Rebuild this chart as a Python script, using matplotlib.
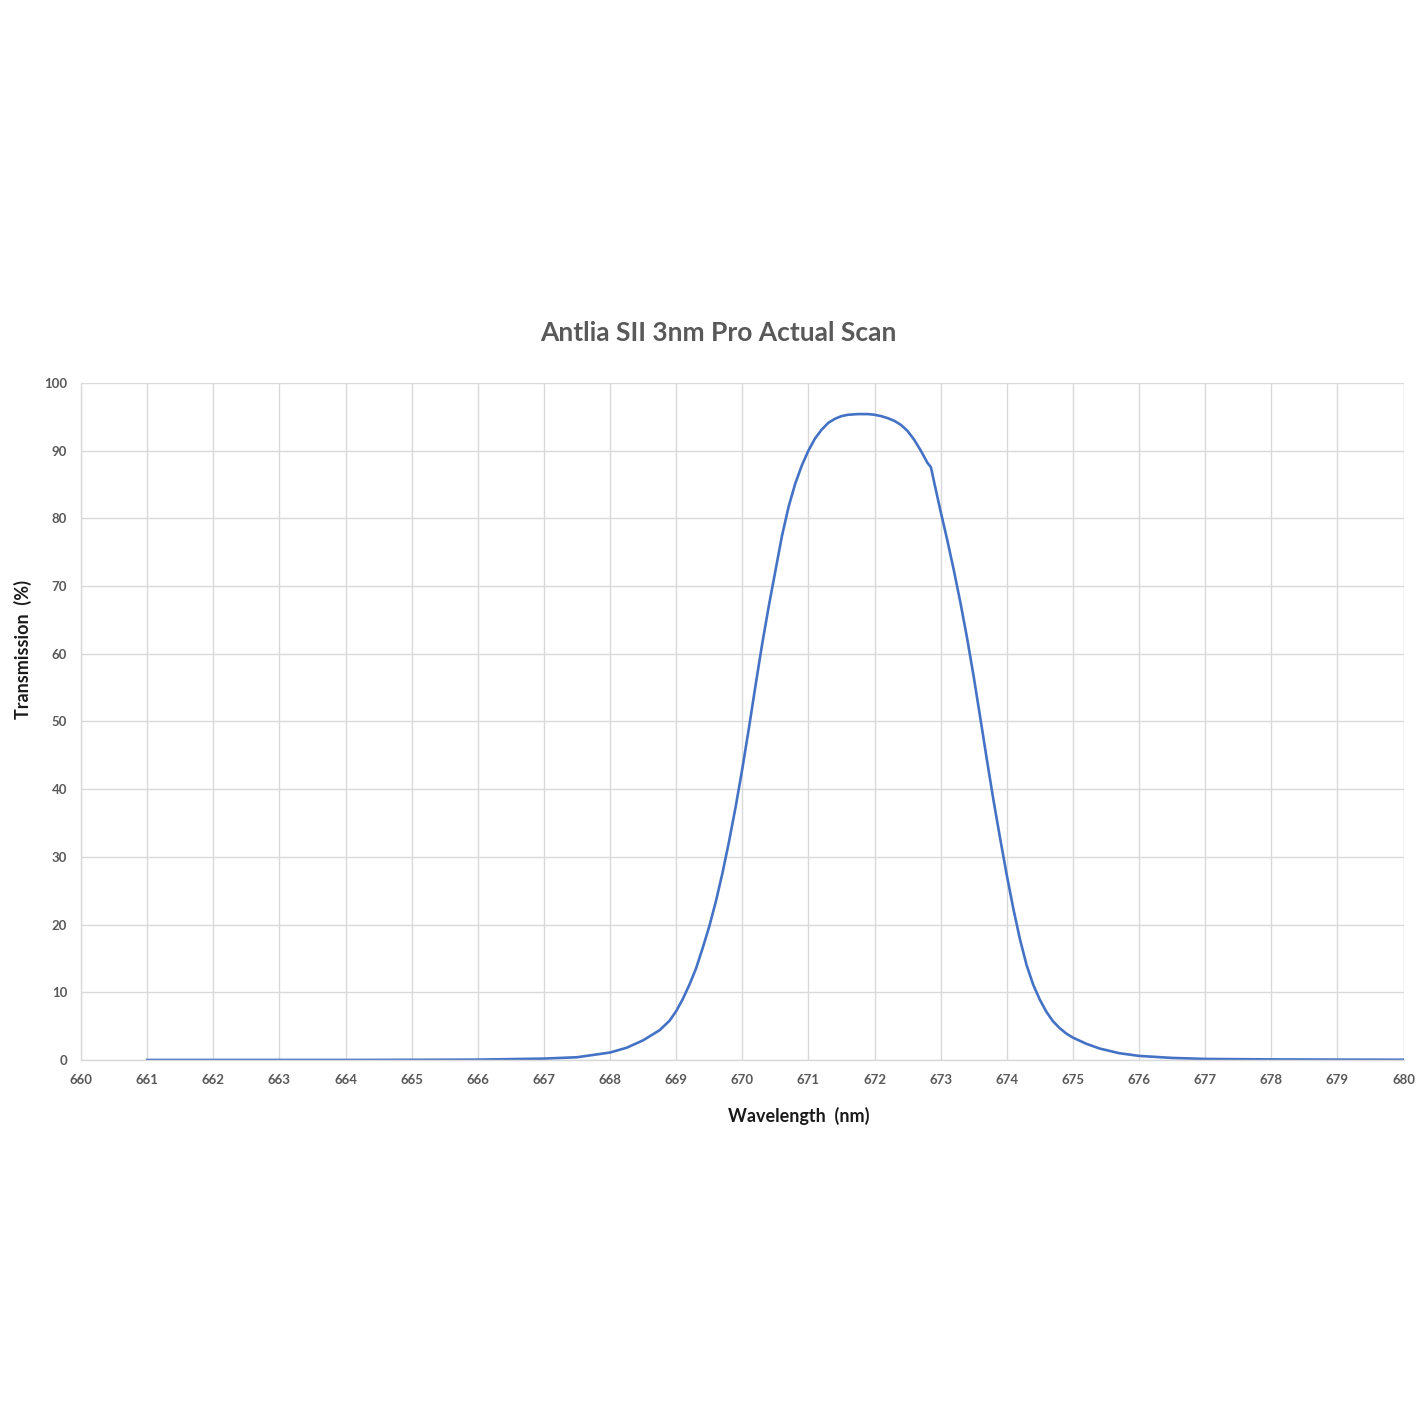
#!/usr/bin/env python3
"""
Antlia SII 3nm Pro filter scan - transmission curve
"""

import matplotlib
matplotlib.use("Agg")
import matplotlib.pyplot as plt

# values (nm, %)
wavelength = [661, 662, 663, 664, 665, 666, 667, 667.5, 668, 668.25, 668.5,
              668.75, 668.9, 669, 669.1, 669.2, 669.3, 669.4, 669.5, 669.6,
              669.7, 669.8, 669.9, 670, 670.1, 670.2, 670.3, 670.4, 670.5,
              670.6, 670.7, 670.8, 670.9, 671, 671.1, 671.2, 671.3, 671.4,
              671.5, 671.6, 671.75, 671.9, 672, 672.1, 672.2, 672.3, 672.4,
              672.5, 672.6, 672.7, 672.8, 672.85, 672.87, 672.9, 673, 673.1,
              673.2, 673.3, 673.4, 673.5, 673.6, 673.7, 673.8, 673.9, 674,
              674.1, 674.2, 674.3, 674.4, 674.5, 674.6, 674.7, 674.8, 674.9,
              675, 675.2, 675.4, 675.7, 676, 676.5, 677, 678, 679, 680]
transmission = [0.0, 0.0, 0.0, 0.0, 0.02, 0.05, 0.2, 0.4, 1.1, 1.8, 2.9,
                4.4, 5.8, 7.2, 9.0, 11.1, 13.5, 16.5, 19.7, 23.4,
                27.6, 32.3, 37.4, 43.0, 49.0, 55.3, 61.4, 67.0, 72.2,
                77.4, 81.7, 85.1, 87.8, 90.0, 91.8, 93.1, 94.1, 94.7,
                95.1, 95.3, 95.4, 95.4, 95.3, 95.1, 94.8, 94.4, 93.8,
                92.9, 91.6, 90.0, 88.2, 87.6, 86.8, 85.4, 81.0, 76.8,
                72.3, 67.5, 62.3, 56.6, 50.5, 44.3, 38.3, 32.7, 27.3,
                22.3, 17.8, 14.0, 11.1, 8.9, 7.1, 5.7, 4.7, 3.9,
                3.3, 2.4, 1.7, 1.0, 0.6, 0.3, 0.15, 0.08, 0.05, 0.03]

x_ticks = list(range(660, 681))
y_ticks = list(range(0, 101, 10))

plt.rcParams['font.family'] = ['Lato', 'DejaVu Sans']

fig = plt.figure(figsize=(14.22, 14.22), dpi=100)
ax = fig.add_axes([0.057, 0.2546, 0.930, 0.4761])

ax.plot(wavelength, transmission, color='#4472C4', linewidth=1.9,
        solid_joinstyle='round')

ax.set_xlim(660, 680)
ax.set_ylim(0, 100)
ax.set_xticks(x_ticks)
ax.set_yticks(y_ticks)
ax.grid(True, color='#D9D9D9', linewidth=1.0)
ax.set_axisbelow(True)
ax.tick_params(length=0, labelsize=9.5, labelcolor='#595959', pad=10)
for lbl in ax.get_xticklabels() + ax.get_yticklabels():
    lbl.set_fontweight('bold')

for side in ['top', 'right']:
    ax.spines[side].set_visible(False)
for side in ['left', 'bottom']:
    ax.spines[side].set_color('#D9D9D9')
    ax.spines[side].set_linewidth(1.0)

ax.set_xlabel('Wavelength  (nm)', fontsize=13, fontweight='bold', color='#1a1a1a')
ax.xaxis.set_label_coords(0.543, -0.069)
ax.set_ylabel('Transmission  (%)', fontsize=13, fontweight='bold', color='#1a1a1a')
ax.yaxis.set_label_coords(-0.037, 0.606)

fig.text(0.505, 0.766, 'Antlia SII 3nm Pro Actual Scan', ha='center', va='center',
         fontsize=19, fontweight='bold', color='#595959')

fig.savefig('out.png', dpi=100)
